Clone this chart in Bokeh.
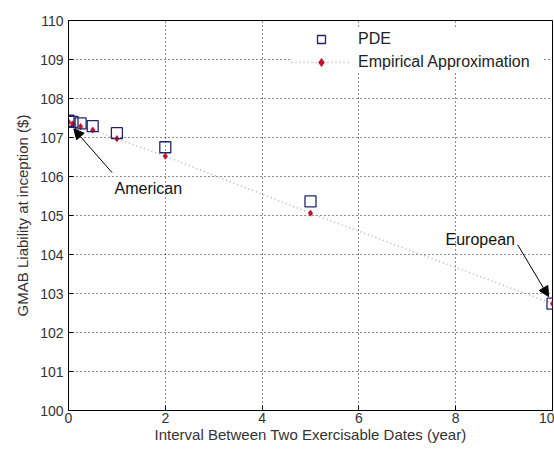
from bokeh.plotting import figure
from bokeh.models import (Range1d, Legend, LegendItem, Arrow, NormalHead,
                          Label, FixedTicker, ColumnDataSource)
from bokeh.embed import file_html
from bokeh.resources import INLINE

# Data
interval = [0.0, 0.0833, 0.25, 0.5, 1.0, 2.0, 5.0, 10.0]
pde = [107.43, 107.40, 107.36, 107.29, 107.11, 106.75, 105.36, 102.74]
empirical = [107.40, 107.35, 107.28, 107.19, 106.97, 106.52, 105.06, 102.74]
x_ticks = [0, 2, 4, 6, 8, 10]
y_ticks = list(range(100, 111))

FONT = "Liberation Sans"

p = figure(width=554, height=450, output_backend="svg", toolbar_location=None,
           x_range=Range1d(0, 10), y_range=Range1d(100, 110),
           min_border_left=68, min_border_right=2, min_border_top=20, min_border_bottom=40)
p.background_fill_color = "white"
p.border_fill_color = "white"
p.outline_line_color = "black"
p.outline_line_width = 1

for ax, tk in ((p.xaxis[0], x_ticks), (p.yaxis[0], y_ticks)):
    ax.ticker = FixedTicker(ticks=tk)
    ax.major_tick_in = 5
    ax.major_tick_out = 0
    ax.minor_tick_line_color = None
    ax.axis_line_color = "black"
    ax.major_label_text_font = FONT
    ax.major_label_text_font_size = "14px"
    ax.major_label_text_color = "#333333"
    ax.axis_label_text_font = FONT
    ax.axis_label_text_font_size = "15px"
    ax.axis_label_text_font_style = "normal"
    ax.axis_label_text_color = "#333333"

p.xaxis.axis_label = "Interval Between Two Exercisable Dates (year)"
p.yaxis.axis_label = "GMAB Liability at inception ($)"
p.xaxis.axis_label_standoff = 0
p.xaxis.major_label_standoff = 2
p.yaxis.axis_label_standoff = 6
p.yaxis.major_label_standoff = 5

p.xgrid.ticker = FixedTicker(ticks=x_ticks)
p.ygrid.ticker = FixedTicker(ticks=y_ticks)
for g in (p.xgrid[0], p.ygrid[0]):
    g.grid_line_color = "black"
    g.grid_line_dash = "1 3"
    g.grid_line_width = 1
    g.grid_line_alpha = 0.9

src = ColumnDataSource(dict(x=interval, pde=pde, emp=empirical))

emp_line = p.line("x", "emp", source=src, line_color="#b8b0b0", line_dash="1 3", line_width=1.5)
emp_pts = p.scatter("x", "emp", source=src, marker="diamond", size=6,
                    fill_color="#c8102e", line_color="#c8102e")
pde_pts = p.scatter("x", "pde", source=src, marker="square", size=11,
                    fill_color=None, line_color="#22226a", line_width=1.3)

legend = Legend(items=[LegendItem(label="PDE", renderers=[pde_pts]),
                       LegendItem(label="Empirical Approximation", renderers=[emp_line, emp_pts])],
                location="top_right", border_line_color=None, background_fill_color="white",
                background_fill_alpha=1.0, label_text_font=FONT, label_text_font_size="16px",
                label_text_color="#222222", glyph_width=60, glyph_height=20, label_height=20,
                label_width=185, spacing=3, margin=9, padding=10, label_standoff=7)
p.add_layout(legend)

# annotations
p.add_layout(Arrow(end=NormalHead(size=10, fill_color="black", line_color="black"),
                   x_start=0.90, y_start=106.1, x_end=0.11, y_end=107.22,
                   line_color="black", line_width=1))
p.add_layout(Label(x=0.95, y=105.7, text="American", text_font=FONT, text_font_size="16px",
                   text_color="#111111", text_baseline="alphabetic"))
p.add_layout(Arrow(end=NormalHead(size=10, fill_color="black", line_color="black"),
                   x_start=9.28, y_start=104.25, x_end=9.92, y_end=102.92,
                   line_color="black", line_width=1))
p.add_layout(Label(x=7.79, y=104.38, text="European", text_font=FONT, text_font_size="16px",
                   text_color="#111111", text_baseline="alphabetic"))

open("out.html", "w").write(file_html(p, INLINE))
